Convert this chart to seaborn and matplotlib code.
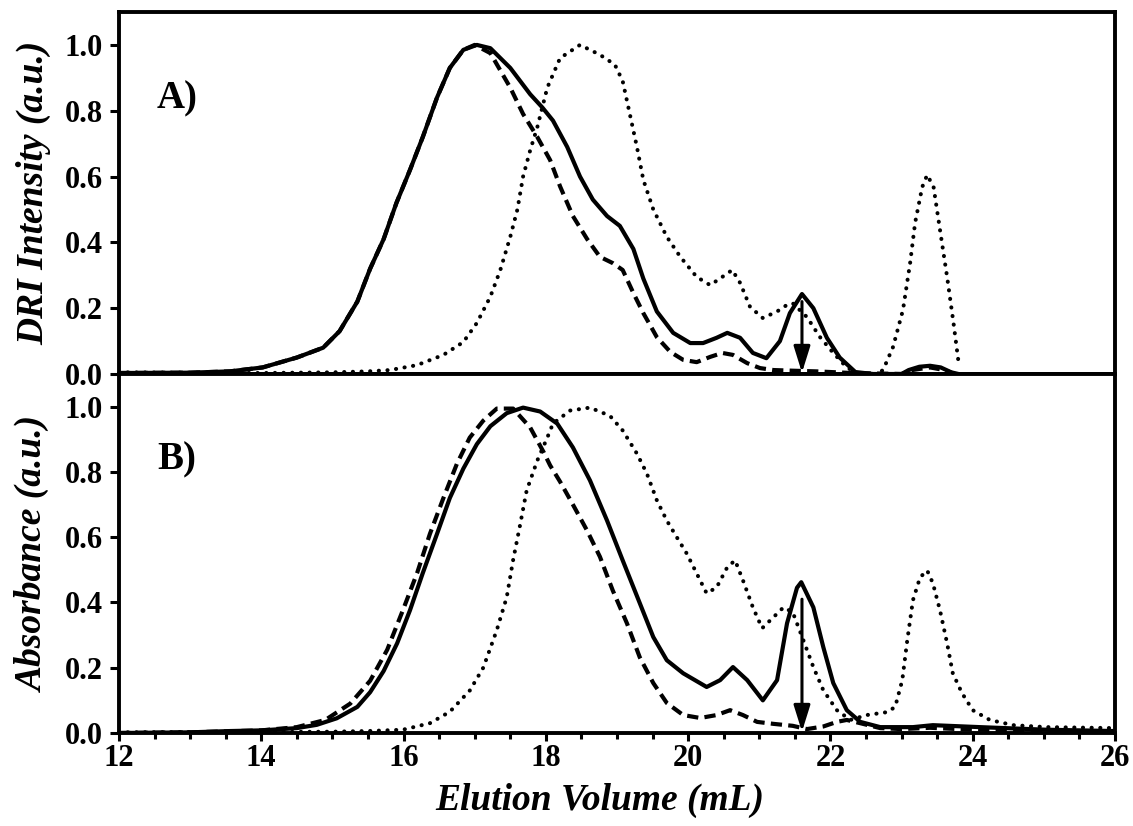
import matplotlib
matplotlib.use("Agg")
import matplotlib.pyplot as plt
import seaborn as sns
import pandas as pd
import numpy as np

# ---------------- data ----------------
# Panel A: DRI intensity
a_solid_x = [12.0, 13.0, 13.56, 14.02, 14.5, 14.87, 15.1, 15.35, 15.53, 15.72, 15.9, 16.09, 16.27,
             16.47, 16.65, 16.84, 17.03, 17.22, 17.5, 17.78, 17.95, 18.1, 18.3, 18.48, 18.66, 18.86,
             19.04, 19.23, 19.37, 19.56, 19.79, 20.03, 20.21, 20.4, 20.55, 20.73, 20.91, 21.1, 21.29,
             21.43, 21.6, 21.76, 21.95, 22.13, 22.35, 22.6, 23.0, 23.1, 23.25, 23.4, 23.55, 23.7, 23.8]
a_solid_y = [0.003, 0.004, 0.008, 0.02, 0.05, 0.08, 0.13, 0.22, 0.32, 0.41, 0.52, 0.62, 0.72,
             0.84, 0.93, 0.985, 1.0, 0.99, 0.93, 0.85, 0.81, 0.77, 0.69, 0.60, 0.53, 0.48,
             0.45, 0.38, 0.29, 0.19, 0.125, 0.094, 0.094, 0.11, 0.125, 0.11, 0.064, 0.048, 0.10,
             0.185, 0.243, 0.20, 0.11, 0.05, 0.006, 0.0, 0.0, 0.012, 0.022, 0.025, 0.02, 0.005, 0.0]

a_dash_x = [12.0, 13.0, 13.56, 14.02, 14.5, 14.87, 15.1, 15.35, 15.53, 15.72, 15.9, 16.09, 16.27,
            16.47, 16.65, 16.84, 17.0, 17.22, 17.5, 17.68, 17.88, 18.06, 18.2, 18.38, 18.58, 18.76,
            18.94, 19.08, 19.23, 19.37, 19.56, 19.75, 19.93, 20.12, 20.31, 20.48, 20.63, 20.83, 21.01,
            21.2, 21.47, 21.8, 22.3, 23.0, 23.15, 23.4, 23.6, 23.75]
a_dash_y = [0.003, 0.004, 0.008, 0.02, 0.05, 0.08, 0.13, 0.22, 0.32, 0.41, 0.52, 0.62, 0.72,
            0.84, 0.93, 0.985, 1.0, 0.975, 0.87, 0.79, 0.72, 0.65, 0.57, 0.48, 0.41, 0.356,
            0.337, 0.316, 0.246, 0.185, 0.112, 0.067, 0.043, 0.036, 0.052, 0.064, 0.058, 0.033, 0.018,
            0.012, 0.01, 0.008, 0.003, 0.0, 0.012, 0.02, 0.012, 0.0]

a_dot_x = [12.0, 13.0, 14.0, 15.0, 15.5, 15.81, 16.19, 16.56, 16.84, 17.03, 17.22, 17.36, 17.5, 17.6,
           17.68, 17.78, 17.88, 18.02, 18.2, 18.48, 18.76, 18.97, 19.08, 19.18, 19.28, 19.37, 19.51,
           19.7, 19.89, 20.12, 20.31, 20.48, 20.62, 20.73, 20.87, 21.05, 21.25, 21.39, 21.47, 21.67,
           21.85, 22.04, 22.23, 22.4, 22.65, 22.74, 22.88, 23.02, 23.12, 23.19, 23.29, 23.36, 23.45,
           23.54, 23.64, 23.73, 23.81]
a_dot_y = [0.005, 0.004, 0.003, 0.005, 0.008, 0.012, 0.027, 0.058, 0.097, 0.155, 0.235, 0.316, 0.417, 0.50,
           0.60, 0.68, 0.75, 0.87, 0.96, 1.0, 0.97, 0.94, 0.89, 0.79, 0.69, 0.59, 0.50,
           0.417, 0.356, 0.295, 0.27, 0.295, 0.316, 0.277, 0.204, 0.17, 0.19, 0.21, 0.215, 0.173,
           0.113, 0.064, 0.02, 0.0, 0.0, 0.012, 0.082, 0.195, 0.337, 0.459, 0.568, 0.605, 0.568,
           0.438, 0.295, 0.155, 0.02]

# Panel B: absorbance
b_solid_x = [12.0, 13.0, 13.56, 14.0, 14.5, 14.78, 15.06, 15.35, 15.53, 15.72, 15.91, 16.09, 16.27,
             16.47, 16.65, 16.84, 17.03, 17.22, 17.45, 17.68, 17.92, 18.16, 18.38, 18.62, 18.86, 19.08,
             19.32, 19.51, 19.7, 19.93, 20.26, 20.45, 20.63, 20.83, 21.05, 21.25, 21.39, 21.53, 21.59,
             21.76, 21.9, 22.04, 22.23, 22.42, 22.7, 23.16, 23.44, 24.1, 25.04, 26.0]
b_solid_y = [0.0, 0.002, 0.006, 0.008, 0.015, 0.025, 0.045, 0.08, 0.125, 0.19, 0.275, 0.376, 0.49,
             0.61, 0.72, 0.81, 0.885, 0.94, 0.98, 0.997, 0.985, 0.948, 0.875, 0.774, 0.651, 0.529,
             0.398, 0.294, 0.223, 0.183, 0.141, 0.162, 0.202, 0.162, 0.10, 0.162, 0.336, 0.445, 0.462,
             0.385, 0.263, 0.153, 0.07, 0.034, 0.018, 0.018, 0.024, 0.018, 0.01, 0.006]

b_dash_x = [12.0, 13.0, 14.0, 14.5, 14.9, 15.25, 15.53, 15.77, 15.99, 16.19, 16.37, 16.56, 16.75,
            16.93, 17.12, 17.31, 17.54, 17.78, 17.97, 18.06, 18.2, 18.38, 18.58, 18.76, 18.94, 19.14,
            19.32, 19.51, 19.7, 19.93, 20.17, 20.4, 20.59, 20.77, 20.97, 21.2, 21.47, 21.67, 21.9,
            22.09, 22.23, 22.42, 22.7, 23.0, 23.4, 23.8, 24.5, 25.0, 26.0]
b_dash_y = [0.0, 0.002, 0.008, 0.018, 0.04, 0.09, 0.16, 0.255, 0.376, 0.49, 0.61, 0.72, 0.825,
            0.905, 0.957, 0.994, 0.994, 0.936, 0.86, 0.82, 0.77, 0.70, 0.62, 0.54, 0.437, 0.336,
            0.232, 0.153, 0.092, 0.055, 0.046, 0.055, 0.07, 0.055, 0.034, 0.028, 0.022, 0.012, 0.02,
            0.034, 0.04, 0.03, 0.015, 0.012, 0.016, 0.012, 0.008, 0.005, 0.004]

b_dot_x = [12.0, 13.0, 14.0, 15.0, 15.5, 15.99, 16.37, 16.65, 16.93, 17.12, 17.31, 17.45, 17.54, 17.64,
           17.73, 17.88, 18.02, 18.1, 18.34, 18.62, 18.9, 19.08, 19.28, 19.42, 19.56, 19.7, 19.84,
           19.98, 20.12, 20.26, 20.4, 20.55, 20.66, 20.77, 20.91, 21.04, 21.2, 21.34, 21.47, 21.62,
           21.76, 21.9, 22.09, 22.28, 22.51, 22.8, 22.91, 23.01, 23.08, 23.16, 23.26, 23.36, 23.44,
           23.54, 23.64, 23.72, 23.85, 24.0, 24.24, 24.57, 25.04, 26.0]
b_dot_y = [0.002, 0.003, 0.003, 0.004, 0.006, 0.01, 0.03, 0.065, 0.13, 0.2, 0.315, 0.416, 0.53, 0.64,
           0.743, 0.835, 0.905, 0.948, 0.988, 0.997, 0.972, 0.927, 0.856, 0.795, 0.713, 0.651, 0.6,
           0.55, 0.489, 0.428, 0.446, 0.508, 0.529, 0.468, 0.385, 0.321, 0.355, 0.385, 0.37, 0.284,
           0.202, 0.131, 0.07, 0.04, 0.055, 0.064, 0.08, 0.162, 0.284, 0.407, 0.477, 0.498, 0.459,
           0.376, 0.275, 0.183, 0.122, 0.07, 0.04, 0.024, 0.018, 0.015]

panel_labels = ["A)", "B)"]
y_labels = ["DRI Intensity (a.u.)", "Absorbance (a.u.)"]
x_label = "Elution Volume (mL)"
arrow_x = [21.6, 21.6]
arrow_top = [0.22, 0.41]

# ---------------- style ----------------
sns.set_style("ticks")
plt.rcParams["font.family"] = ["Liberation Serif", "DejaVu Serif"]
plt.rcParams["font.weight"] = "bold"
plt.rcParams["text.color"] = "black"
plt.rcParams["axes.labelcolor"] = "black"
plt.rcParams["xtick.color"] = "black"
plt.rcParams["ytick.color"] = "black"
plt.rcParams["lines.dash_capstyle"] = "round"

fig = plt.figure(figsize=(11.33, 8.26), dpi=100)
L, R = 119 / 1133, 1115 / 1133
ax_a = fig.add_axes([L, 1 - 374 / 826, R - L, (374 - 12) / 826])
ax_b = fig.add_axes([L, 1 - 733 / 826, R - L, (733 - 374) / 826])

LW = 3.0
styles = {"solid": dict(linestyle="-", linewidth=LW),
          "dash": dict(linestyle=(0, (2.7, 1.5)), linewidth=LW, dash_capstyle="butt"),
          "dot": dict(linestyle=(0, (0.05, 2.1)), linewidth=2.9, dash_capstyle="round")}

series = [
    (ax_a, a_solid_x, a_solid_y, "solid"), (ax_a, a_dash_x, a_dash_y, "dash"), (ax_a, a_dot_x, a_dot_y, "dot"),
    (ax_b, b_solid_x, b_solid_y, "solid"), (ax_b, b_dash_x, b_dash_y, "dash"), (ax_b, b_dot_x, b_dot_y, "dot"),
]
for ax, xs, ys, st in series:
    df = pd.DataFrame({"v": xs, "i": ys})
    sns.lineplot(data=df, x="v", y="i", ax=ax, color="black", sort=False,
                 estimator=None, **styles[st])

for k, ax in enumerate([ax_a, ax_b]):
    ax.set_xlim(12, 26)
    ax.set_ylim(0, 1.1)
    ax.set_yticks(np.arange(0, 1.01, 0.2))
    ax.set_yticklabels([f"{t:.1f}" for t in np.arange(0, 1.01, 0.2)])
    for sp in ax.spines.values():
        sp.set_visible(True)
        sp.set_linewidth(2.8)
        sp.set_color("black")
        sp.set_zorder(5)
    ax.tick_params(axis="y", which="major", direction="out", length=6.5, width=2.2,
                   labelsize=22, pad=5, colors="black")
    ax.set_ylabel(y_labels[k], fontsize=27, fontstyle="italic", fontweight="bold", color="black")
    ax.yaxis.set_label_coords(-0.068, 0.5)
    ax.text(0.038, 0.76, panel_labels[k], transform=ax.transAxes, fontsize=28,
            fontweight="bold", va="center", ha="left", color="black")
    ax.annotate("", xy=(arrow_x[k], 0.004), xytext=(arrow_x[k], arrow_top[k]),
                arrowprops=dict(arrowstyle="-|>,head_length=0.8,head_width=0.25",
                                lw=2.2, color="black", shrinkA=0, shrinkB=0,
                                mutation_scale=20), zorder=6)
    ax.grid(False)

ax_a.set_xlabel("")
ax_a.tick_params(axis="x", which="both", bottom=False, labelbottom=False)
ax_b.set_xticks(np.arange(12, 26.1, 2))
ax_b.set_xticks(np.arange(12, 26.1, 0.5), minor=True)
ax_b.tick_params(axis="x", which="major", direction="out", length=6, width=2.2,
                 labelsize=22, pad=2, colors="black")
ax_b.tick_params(axis="x", which="minor", direction="out", length=4.5, width=2.2)
ax_b.set_xlabel(x_label, fontsize=27, fontstyle="italic", fontweight="bold", color="black")
ax_b.xaxis.set_label_coords(0.483, -0.14)

fig.savefig("out.png", dpi=100, facecolor="white")
